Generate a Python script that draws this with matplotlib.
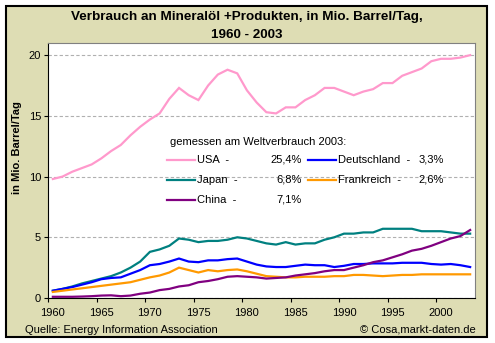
import matplotlib
matplotlib.use("Agg")
import matplotlib.pyplot as plt
from matplotlib.patches import Rectangle
from matplotlib.lines import Line2D

plt.rcParams['font.family'] = ['Liberation Sans', 'DejaVu Sans']

years = list(range(1960, 2004))

usa = [9.8, 10.0, 10.4, 10.7, 11.0, 11.5, 12.1, 12.6, 13.4, 14.1,
       14.7, 15.2, 16.4, 17.3, 16.7, 16.3, 17.5, 18.4, 18.8, 18.5,
       17.1, 16.1, 15.3, 15.2, 15.7, 15.7, 16.3, 16.7, 17.3, 17.3,
       17.0, 16.7, 17.0, 17.2, 17.7, 17.7, 18.3, 18.6, 18.9, 19.5,
       19.7, 19.7, 19.8, 20.0]
japan = [0.6, 0.75, 0.95, 1.2, 1.4, 1.6, 1.8, 2.1, 2.5, 3.0,
         3.8, 4.0, 4.3, 4.9, 4.8, 4.6, 4.7, 4.7, 4.8, 5.0,
         4.9, 4.7, 4.5, 4.4, 4.6, 4.4, 4.5, 4.5, 4.8, 5.0,
         5.3, 5.3, 5.4, 5.4, 5.7, 5.7, 5.7, 5.7, 5.5, 5.5,
         5.5, 5.4, 5.3, 5.3]
germany = [0.6, 0.75, 0.9, 1.1, 1.3, 1.55, 1.65, 1.7, 2.0, 2.3,
           2.7, 2.8, 3.0, 3.25, 3.0, 2.95, 3.1, 3.1, 3.2, 3.25,
           3.0, 2.75, 2.6, 2.55, 2.55, 2.65, 2.75, 2.7, 2.7, 2.55,
           2.65, 2.8, 2.8, 2.85, 2.85, 2.85, 2.9, 2.9, 2.9, 2.8,
           2.75, 2.8, 2.7, 2.55]
france = [0.5, 0.6, 0.7, 0.8, 0.9, 1.0, 1.1, 1.2, 1.3, 1.5,
          1.7, 1.85, 2.1, 2.5, 2.3, 2.1, 2.3, 2.2, 2.3, 2.35,
          2.2, 2.0, 1.8, 1.75, 1.7, 1.7, 1.75, 1.75, 1.75, 1.8,
          1.8, 1.9, 1.9, 1.85, 1.8, 1.85, 1.9, 1.9, 1.95, 1.95,
          1.95, 1.95, 1.95, 1.95]
china = [0.1, 0.1, 0.1, 0.12, 0.15, 0.2, 0.22, 0.15, 0.2, 0.35,
         0.45, 0.65, 0.75, 0.95, 1.05, 1.3, 1.4, 1.55, 1.75, 1.8,
         1.75, 1.7, 1.6, 1.65, 1.7, 1.85, 1.95, 2.05, 2.2, 2.3,
         2.3, 2.5, 2.7, 2.95, 3.1, 3.35, 3.6, 3.9, 4.05, 4.3,
         4.6, 4.9, 5.1, 5.6]

names = ["USA", "Deutschland", "Japan", "Frankreich", "China"]
shares = ["25,4%", "3,3%", "6,8%", "2,6%", "7,1%"]
series = [usa, germany, japan, france, china]
colors = ["#FF99CC", "#0000FF", "#008080", "#FF9900", "#800080"]

W, H = 495, 343
def fx(x):
    return x / W
def fy(y):
    return 1 - y / H

fig = plt.figure(figsize=(W / 100, H / 100), dpi=100)
fig.patch.set_facecolor("white")
fig.patches.append(Rectangle((fx(6), fy(337)), (487 - 6) / W, (337 - 6) / H,
                             transform=fig.transFigure, facecolor="#DEDDB4",
                             edgecolor="black", lw=1.5, zorder=-5))

ax = fig.add_axes([fx(48), fy(298), (475 - 48) / W, (298 - 43) / H])
ax.set_facecolor("white")

# draw order: Excel draws first series first
order = [0, 2, 1, 3, 4]
for i in order:
    ax.plot([y + 0.5 for y in years], series[i], color=colors[i], lw=1.6,
            solid_joinstyle="miter")

ax.set_xlim(1960, 2004)
ax.set_ylim(0, 21)
ax.set_yticks([0, 5, 10, 15, 20])
ax.set_xticks(list(range(1960, 2001, 5)))
ax.set_xticklabels([])
ax.set_xticks([y + 0.5 for y in range(1960, 2001, 5)], minor=True)
ax.set_xticklabels([str(y) for y in range(1960, 2001, 5)], minor=True)
ax.tick_params(axis="x", which="major", direction="out", length=3, width=0.8)
ax.tick_params(axis="x", which="minor", length=0, pad=7, labelsize=8)
ax.tick_params(axis="y", direction="out", length=3, width=0.8, pad=2, labelsize=8)
ax.grid(axis="y", color="#B0B0B0", linestyle=(0, (3, 2)), lw=0.8)
ax.set_axisbelow(True)
for s in ["top", "right"]:
    ax.spines[s].set_color("#808080")
for s in ["left", "bottom"]:
    ax.spines[s].set_color("black")

# title, labels, footer
fig.text(fx(247), fy(17), "Verbrauch an Mineralöl +Produkten, in Mio. Barrel/Tag,",
         ha="center", va="center", fontsize=9.7, fontweight="bold")
fig.text(fx(247), fy(35), "1960 - 2003", ha="center", va="center",
         fontsize=9.7, fontweight="bold")
fig.text(fx(17), fy(148), "in Mio. Barrel/Tag", rotation=90, ha="center",
         va="center", fontsize=8, fontweight="bold")
fig.text(fx(25), fy(330), "Quelle: Energy Information Association",
         ha="left", va="center", fontsize=8)
fig.text(fx(476), fy(330), "© Cosa,markt-daten.de", ha="right",
         va="center", fontsize=8)

# legend block inside plot
fig.text(fx(170), fy(142), "gemessen am Weltverbrauch 2003:", ha="left",
         va="center", fontsize=8)
legend_pos = [(167, 160, 302), (308, 160, 444), (167, 180, 302),
              (308, 180, 444), (167, 200, 302)]
for (lx, ly, rx), name, share, c in zip(legend_pos, names, shares, colors):
    fig.lines.append(Line2D([fx(lx), fx(lx + 28)], [fy(ly), fy(ly)],
                            transform=fig.transFigure, color=c, lw=1.6))
    fig.text(fx(lx + 30), fy(ly), name + "  -", ha="left", va="center",
             fontsize=8)
    fig.text(fx(rx), fy(ly), share, ha="right", va="center", fontsize=8)

fig.savefig("out.png", dpi=100)
